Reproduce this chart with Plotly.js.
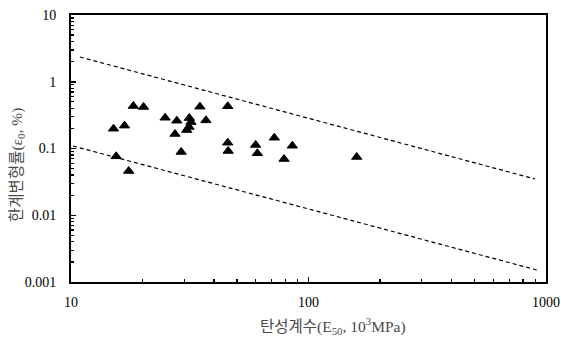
<!DOCTYPE html>
<html>
<head>
<meta charset="utf-8">
<script src="https://cdn.plot.ly/plotly-3.0.1.min.js"></script>
<style>
  html, body { margin: 0; padding: 0; background: #fff; }
  #chart { width: 561px; height: 338px; }
</style>
</head>
<body>
<div id="chart"></div>
<script>
// Elastic modulus E50 (10^3 MPa) against critical strain (%)
const modulusE50 = [15.1, 16.8, 18.3, 20.2, 24.9, 27.9, 27.4, 29.1, 15.5, 17.5,
                    31.5, 32.0, 31.4, 30.7, 34.9, 37.0, 45.7, 45.7, 45.9, 59.9,
                    60.9, 71.8, 85.5, 78.9, 159.6];
const criticalStrain = [0.198, 0.220, 0.433, 0.419, 0.289, 0.261, 0.165, 0.0887, 0.0764, 0.046,
                        0.286, 0.249, 0.210, 0.189, 0.423, 0.264, 0.429, 0.122, 0.0918, 0.113,
                        0.0848, 0.145, 0.110, 0.0696, 0.0746];

// Upper and lower bound lines
const upperBoundX = [10.9, 899];
const upperBoundY = [2.35, 0.0349];
const lowerBoundX = [10.2, 916];
const lowerBoundY = [0.109, 0.00151];

// Axis ticks
const xTickVals = [10, 100, 1000];
const xTickText = ['10', '100', '1000'];
const yTickVals = [0.001, 0.01, 0.1, 1, 10];
const yTickText = ['0.001', '0.01', '0.1', '1', '10'];

const tickFont = { family: '"Liberation Serif", "Times New Roman", serif', size: 14, color: '#000' };
const titleFont = { family: '"Liberation Serif", "Noto Sans CJK KR", serif', size: 15.5, color: '#4a4a4a' };

const dashLine = { color: '#000', width: 1.2, dash: '4px,3px' };

const traces = [
  { x: upperBoundX, y: upperBoundY, mode: 'lines', line: dashLine, hoverinfo: 'skip' },
  { x: lowerBoundX, y: lowerBoundY, mode: 'lines', line: dashLine, hoverinfo: 'skip' },
  {
    x: modulusE50, y: criticalStrain, mode: 'markers',
    marker: { symbol: 'triangle-up', size: 9, color: '#000', line: { width: 1, color: '#000' } }
  }
];

const axisCommon = {
  type: 'log',
  showgrid: false,
  zeroline: false,
  showline: true,
  linecolor: '#000',
  linewidth: 2,
  mirror: true,
  ticks: 'inside',
  ticklen: 5,
  tickwidth: 1.5,
  tickcolor: '#000',
  tickfont: tickFont,
  tickmode: 'array',
  minor: { ticks: 'inside', ticklen: 3, tickwidth: 1.2, tickcolor: '#000', dtick: 'D1', showgrid: false }
};

const layout = {
  width: 561,
  height: 338,
  margin: { l: 71, r: 15, t: 15, b: 56 },
  paper_bgcolor: '#fff',
  plot_bgcolor: '#fff',
  showlegend: false,
  xaxis: Object.assign({}, axisCommon, {
    range: [1, 3],
    tickvals: xTickVals,
    ticktext: xTickText,
    ticklabelstandoff: 6
  }),
  yaxis: Object.assign({}, axisCommon, {
    range: [-3, 1],
    tickvals: yTickVals,
    ticktext: yTickText,
    ticklabelstandoff: 10
  }),
  annotations: [
    {
      text: '탄성계수(E<sub>50</sub>, 10<sup>3</sup>MPa)',
      xref: 'paper', yref: 'paper', x: 0.552, y: -0.165,
      xanchor: 'center', yanchor: 'middle', showarrow: false, font: titleFont
    },
    {
      text: '한계변형률(ε<sub>0</sub>, %)',
      xref: 'paper', yref: 'paper', x: -0.114, y: 0.438,
      xanchor: 'center', yanchor: 'middle', textangle: -90, showarrow: false, font: titleFont
    }
  ]
};

Plotly.newPlot('chart', traces, layout, { staticPlot: true, displayModeBar: false });
</script>
</body>
</html>
